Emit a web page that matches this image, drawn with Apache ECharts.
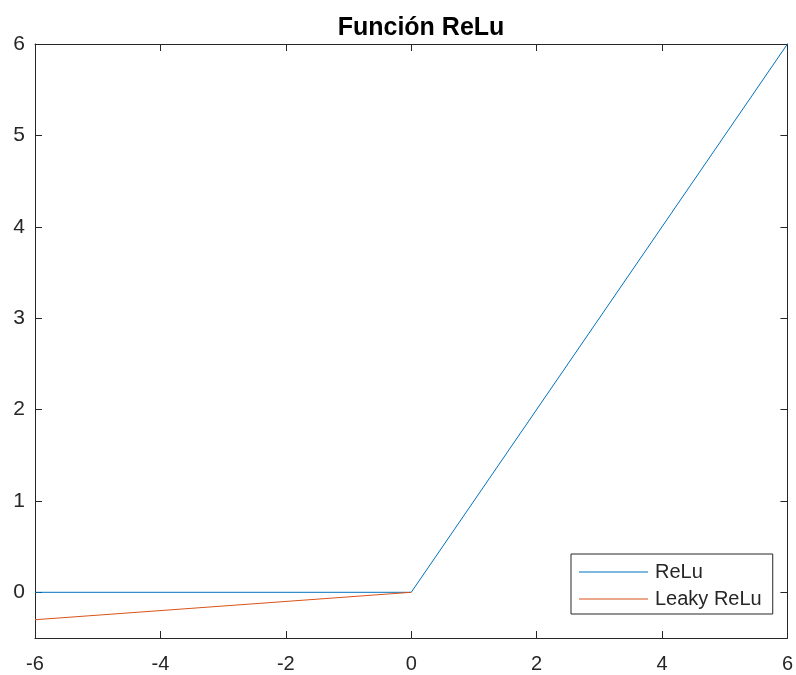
<!DOCTYPE html>
<html>
<head>
<meta charset="utf-8">
<script src="https://cdn.jsdelivr.net/npm/echarts@6/dist/echarts.min.js"></script>
<style>
  html, body { margin:0; padding:0; background:#fff; }
  #chart { width:796px; height:675px; }
</style>
</head>
<body>
<div id="chart"></div>
<script>
  // datos
  var xRelu = [-6, 0, 6];
  var yRelu = [0, 0, 6];
  var xLeaky = [-6, 0];
  var yLeaky = [-0.3, 0];
  var xTicks = [-6, -4, -2, 0, 2, 4, 6];
  var yTicks = [0, 1, 2, 3, 4, 5, 6];

  var axisColor = '#262626';
  var font = 'Liberation Sans, Arial, sans-serif';

  function pairs(xs, ys){
    var out = [];
    for (var i = 0; i < xs.length; i++) out.push([xs[i], ys[i]]);
    return out;
  }

  var chart = echarts.init(document.getElementById('chart'));

  var xBase = {
    type:'value', min:-6, max:6, interval:2,
    axisLine:{show:true, onZero:false, lineStyle:{color:axisColor, width:1}},
    axisTick:{show:true, inside:true, length:7, lineStyle:{color:axisColor}},
    splitLine:{show:false}
  };
  var yBase = {
    type:'value', min:-0.5, max:6,
    axisLine:{show:true, onZero:false, lineStyle:{color:axisColor, width:1}},
    axisTick:{show:true, inside:true, length:7, customValues:yTicks, lineStyle:{color:axisColor}},
    splitLine:{show:false}
  };

  var option = {
    animation:false,
    title:{
      text:'Función ReLu',
      left:416, top:11, textAlign:'center',
      textStyle:{fontFamily:font, fontSize:25, fontWeight:'bold', color:'#000'}
    },
    grid:{left:35, top:44, right:7, bottom:37, containLabel:false},
    legend:{
      orient:'vertical',
      left:571, top:554,
      padding:[8, 11, 5, 8],
      itemGap:7,
      itemWidth:69, itemHeight:1,
      icon:'rect',
      borderColor:axisColor, borderWidth:1,
      backgroundColor:'#fff',
      textStyle:{fontFamily:font, fontSize:20, color:axisColor, padding:[0,0,0,2]},
      data:['ReLu', 'Leaky ReLu']
    },
    xAxis:[
      Object.assign({}, xBase, {
        position:'bottom',
        axisLabel:{show:true, color:axisColor, fontFamily:font, fontSize:20, margin:16}
      }),
      Object.assign({}, xBase, {position:'top', axisLabel:{show:false}})
    ],
    yAxis:[
      Object.assign({}, yBase, {
        position:'left',
        axisLabel:{show:true, customValues:yTicks, color:axisColor, fontFamily:font, fontSize:21, margin:10}
      }),
      Object.assign({}, yBase, {position:'right', axisLabel:{show:false}})
    ],
    series:[
      {
        name:'ReLu', type:'line', data:pairs(xRelu, yRelu),
        showSymbol:false, symbol:'none',
        lineStyle:{color:'#0072BD', width:1},
        itemStyle:{color:'#0072BD'}
      },
      {
        name:'Leaky ReLu', type:'line', data:pairs(xLeaky, yLeaky),
        showSymbol:false, symbol:'none',
        lineStyle:{color:'#D95319', width:1},
        itemStyle:{color:'#D95319'}
      }
    ]
  };

  chart.setOption(option);
</script>
</body>
</html>
